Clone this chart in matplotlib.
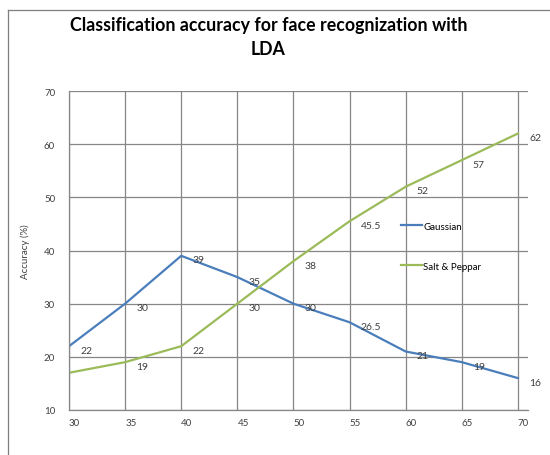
import matplotlib
matplotlib.use("Agg")
import matplotlib.pyplot as plt
from matplotlib.lines import Line2D

plt.rcParams['font.family'] = ['Lato', 'DejaVu Sans']

# accuracy values per x setting
x_vals = [30, 35, 40, 45, 50, 55, 60, 65, 70]
gaussian = [22, 30, 39, 35, 30, 26.5, 21, 19, 16]
salt_peppar = [17, 19, 22, 30, 38, 45.5, 52, 57, 62]
# which points carry a value label
gaussian_labeled = [True] * 9
salt_labeled = [False] + [True] * 8

blue = '#4A7EBB'
green = '#9BBB59'
grid_c = '#868686'

fig = plt.figure(figsize=(5.5, 4.56), dpi=100)
ax = fig.add_axes([69 / 550, 45 / 456, (528 - 69) / 550, (411 - 92) / 456])

ax.plot(x_vals, gaussian, color=blue, lw=1.6, label='Gaussian')
ax.plot(x_vals, salt_peppar, color=green, lw=1.6, label='Salt & Peppar')

for x, y, show in zip(x_vals, gaussian, gaussian_labeled):
    if show:
        ax.annotate(f'{y:g}', (x, y), xytext=(8, -3), textcoords='offset points',
                    ha='left', va='center', fontsize=7.5, color='#404040')
for x, y, show in zip(x_vals, salt_peppar, salt_labeled):
    if show:
        ax.annotate(f'{y:g}', (x, y), xytext=(8, -3), textcoords='offset points',
                    ha='left', va='center', fontsize=7.5, color='#404040')

ax.set_xlim(30, 70.9)
ax.set_ylim(10, 70)
ax.set_xticks(x_vals)
ax.set_yticks(range(10, 71, 10))
ax.grid(True, color=grid_c, lw=0.9)
ax.set_axisbelow(True)
for side in ['top', 'right']:
    ax.spines[side].set_visible(False)
for side in ['left', 'bottom']:
    ax.spines[side].set_color(grid_c)
    ax.spines[side].set_linewidth(0.9)
ax.tick_params(length=0, labelsize=7, colors='#404040')
ax.tick_params(axis='x', pad=6)
ax.tick_params(axis='y', pad=10)
for lbl in ax.get_xticklabels():
    lbl.set_horizontalalignment('left')

ax.set_ylabel('Accuracy (%)', fontsize=7, color='#404040', labelpad=10)

fig.text(0.488, 0.962, 'Classification accuracy for face recognization with\nLDA',
         ha='center', va='top', fontsize=12.8, fontweight='bold', linespacing=1.45)

ax.legend(loc='upper left', bbox_to_anchor=(392 / 550, (456 - 214) / 456),
          bbox_transform=fig.transFigure, frameon=False, fontsize=7,
          handlelength=2.2, handletextpad=0.1, labelspacing=3.2)

# chart border
fig.add_artist(Line2D([8 / 550, 8 / 550], [0, 1 - 11 / 456], color='#7F7F7F', lw=0.9))
fig.add_artist(Line2D([8 / 550, 1], [1 - 11 / 456, 1 - 11 / 456], color='#7F7F7F', lw=0.9))

fig.savefig('out.png', dpi=100)
